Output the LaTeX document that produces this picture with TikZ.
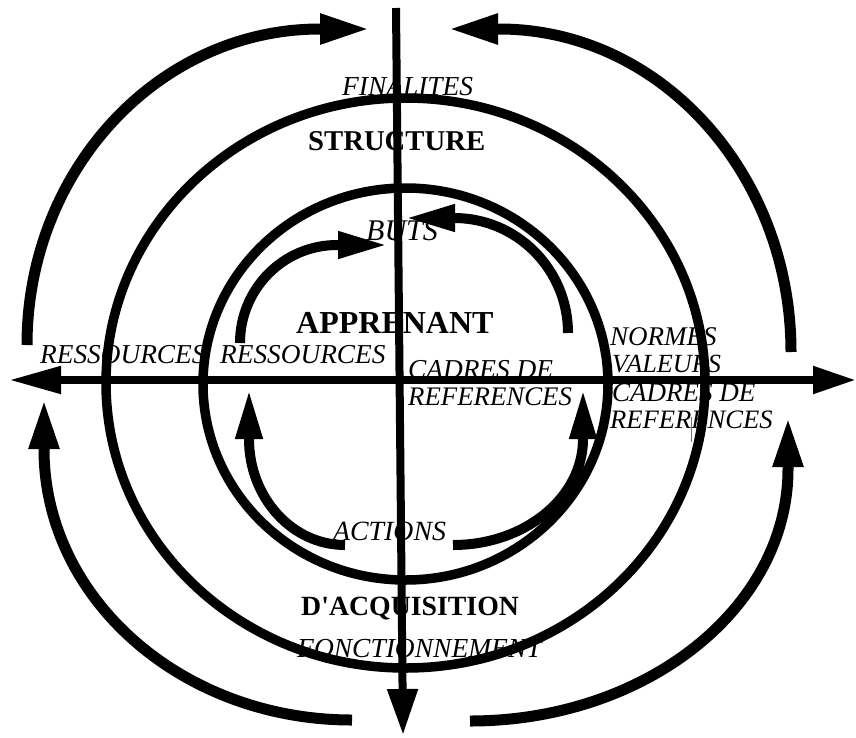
\documentclass[tikz,border=0pt]{standalone}
\usepackage{fontspec}
\setmainfont{Liberation Serif}
\usetikzlibrary{arrows.meta}
\newcommand{\fsz}[1]{\fontsize{#1}{#1}\selectfont}
\begin{document}
\begin{tikzpicture}[x=1pt,y=-1pt,
  txt/.style={anchor=base west,inner sep=0pt},
  axisline/.style={line width=8pt},
  ring/.style={line width=9.5pt},
  bigarrow/.style={line width=11pt,-{Triangle[length=50pt,width=28pt]}},
  smallarrow/.style={line width=10pt,-{Triangle[length=50pt,width=25pt]}}]
\useasboundingbox[fill=white] (0,0) rectangle (856,737);

% ---- texts ----
\node[txt] (fin) at (342,95) {\fsz{27.4}\itshape FINALITES};
\node[txt] (str) at (308,150) {\fsz{28.7}\bfseries STRUCTURE};
\node[txt] (buts) at (366,240) {\fsz{30}\itshape BUTS};
\node[txt] (app) at (296,333) {\fsz{32}\bfseries APPRENANT};
\node[txt] (res1) at (40,363) {\fsz{27.3}\itshape RESSOURCES};
\node[txt] (res2) at (220,363) {\fsz{27.3}\itshape RESSOURCES};
\node[txt] (cad1) at (408,378) {\fsz{27.3}\itshape CADRES DE};
\node[txt] (ref1) at (408,405) {\fsz{26.8}\itshape REFERENCES};
\node[txt] (nor) at (610,345) {\fsz{27}\itshape NORMES};
\node[txt] (val) at (612,372) {\fsz{26.2}\itshape VALEURS};
\node[txt] (cad2) at (612,401) {\fsz{27}\itshape CADRES DE};
\node[txt] (ref2) at (610,428) {\fsz{26.6}\itshape REFERENCES};
\node[txt] (act) at (333,540) {\fsz{27.8}\itshape ACTIONS};
\node[txt] (acq) at (301,615) {\fsz{27.8}\bfseries D\textquotesingle ACQUISITION};
\node[txt] (fon) at (297,657) {\fsz{27.5}\itshape FONCTIONNEMENT};

\draw[line width=0.8pt,black!55] (691,417) -- (691,442);

% ---- rings ----
\draw[ring] (405.5,383) ellipse [x radius=299.5pt, y radius=285pt];
\draw[ring] (405.5,384) ellipse [x radius=202.5pt, y radius=196pt];

% ---- axes ----
\coordinate (hl) at (9,380);
\coordinate (hr) at (856,380);
\coordinate (vt) at (396,8);
\coordinate (vb) at (403,735);
\draw[axisline,{Triangle[length=52pt,width=26pt]}-{Triangle[length=43pt,width=26pt]}] (hl) -- (hr);
\draw[axisline,-{Triangle[length=46pt,width=29pt]}] (vt) -- (vb);

% ---- outer arrows ----
\coordinate (oa1) at (27,345);   \coordinate (oa1t) at (370,29);
\coordinate (ob1) at (791,352);  \coordinate (ob1t) at (448,29);
\coordinate (oc1) at (352,720);  \coordinate (oc1t) at (44,399);
\coordinate (od1) at (470,721);  \coordinate (od1t) at (788,417);
\draw[bigarrow] (oa1) .. controls (27,170.5) and (158.2,29) .. (320,29) -- (oa1t);
\draw[bigarrow] (ob1) .. controls (791,173.6) and (660.3,29) .. (499,29) -- (ob1t);
\draw[bigarrow] (oc1) .. controls (181.9,720) and (44,598.7) .. (44,449) -- (oc1t);
\draw[bigarrow] (od1) .. controls (645.6,721) and (788,608.2) .. (788,469) -- (od1t);

% ---- inner arrows ----
\coordinate (ia1) at (240,343);  \coordinate (ia1t) at (388,245);
\coordinate (ib1) at (568,333);  \coordinate (ib1t) at (405,218);
\coordinate (ic1) at (345,545);  \coordinate (ic1t) at (249,389);
\coordinate (id1) at (453,545);  \coordinate (id1t) at (583,389);
\draw[smallarrow] (ia1) .. controls (240,288.9) and (283.4,245) .. (337,245) -- (ia1t);
\draw[smallarrow] (ib1) .. controls (568,269.5) and (517,218) .. (454,218) -- (ib1t);
\draw[smallarrow] (ic1) .. controls (292,545) and (249,497.5) .. (249,439) -- (ic1t);
\draw[smallarrow] (id1) .. controls (524.8,545) and (583,497.5) .. (583,439) -- (id1t);
\end{tikzpicture}
\end{document}
